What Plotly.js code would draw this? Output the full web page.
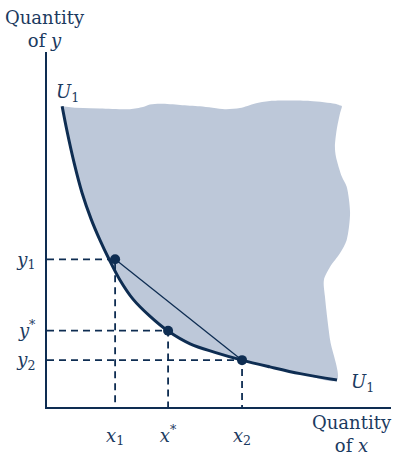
<!DOCTYPE html>
<html>
<head>
<meta charset="utf-8">
<script src="https://cdn.plot.ly/plotly-3.0.1.min.js"></script>
<style>
  html, body { margin: 0; padding: 0; background: #ffffff; }
  #chart { width: 394px; height: 456px; }
</style>
</head>
<body>
<div id="chart"></div>
<script>
// Indifference curve U1 (quantity of x, quantity of y)
const curveX = [0.44, 0.58, 0.79, 1.02, 1.28, 1.54, 1.80, 2.12, 2.50, 2.99, 3.52, 4.16, 4.88, 5.67, 6.48, 7.36, 8.43];
const curveY = [8.47, 7.78, 6.87, 6.03, 5.30, 4.70, 4.17, 3.58, 3.04, 2.56, 2.14, 1.78, 1.54, 1.32, 1.13, 0.94, 0.76];

// Boundary of the shaded region of preferred bundles:
// right edge (bottom to top), then top edge (right to left)
const regionRightX = [8.23, 8.08, 8.05, 8.23, 8.52, 8.71, 8.81, 8.71, 8.57, 8.40, 8.37, 8.42, 8.52, 8.57];
const regionRightY = [1.89, 3.11, 3.58, 3.95, 4.34, 4.70, 5.47, 6.21, 6.49, 7.05, 7.33, 7.80, 8.28, 8.48];
const regionTopX = [8.50, 8.37, 7.65, 6.48, 6.05, 5.61, 5.17, 4.45, 3.87, 3.29, 2.99, 2.79, 2.41, 1.54, 0.81];
const regionTopY = [8.50, 8.54, 8.62, 8.62, 8.55, 8.42, 8.39, 8.47, 8.51, 8.54, 8.52, 8.45, 8.39, 8.41, 8.43];

// Bundles on U1
const bundleNames = ["1", "*", "2"];
const bundleX = [1.98, 3.52, 5.67];
const bundleY = [4.16, 2.15, 1.32];

// Axis tick labels
const xTickText = ["<i>x</i><sub>1</sub>", "<i>x</i><sup>*</sup>", "<i>x</i><sub>2</sub>"];
const yTickText = ["<i>y</i><sub>1</sub>", "<i>y</i><sup>*</sup>", "<i>y</i><sub>2</sub>"];

const navy = "#0e2d52";
const textNavy = "#1b3a60";
const fillBlue = "rgb(189,200,217)";
const serif = "DejaVu Serif, Liberation Serif, serif";

const traces = [];

// shaded region
traces.push({
  x: curveX.concat(regionRightX, regionTopX),
  y: curveY.concat(regionRightY, regionTopY),
  mode: "lines",
  fill: "toself",
  fillcolor: fillBlue,
  line: { width: 0, shape: "spline", smoothing: 0.8, color: fillBlue },
  hoverinfo: "skip"
});

// dashed guides from each bundle to both axes
for (let i = 0; i < bundleX.length; i++) {
  traces.push({
    x: [0, bundleX[i], bundleX[i]],
    y: [bundleY[i], bundleY[i], 0],
    mode: "lines",
    line: { color: navy, width: 1.8, dash: "7px,5px" },
    hoverinfo: "skip"
  });
}

// chord joining the two extreme bundles
traces.push({
  x: [bundleX[0], bundleX[2]],
  y: [bundleY[0], bundleY[2]],
  mode: "lines",
  line: { color: navy, width: 1.3 },
  hoverinfo: "skip"
});

// the indifference curve
traces.push({
  x: curveX,
  y: curveY,
  mode: "lines",
  line: { color: navy, width: 3, shape: "spline" },
  hoverinfo: "skip"
});

// bundle dots
traces.push({
  x: bundleX,
  y: bundleY,
  text: bundleNames,
  mode: "markers",
  marker: { color: navy, size: 10 },
  hoverinfo: "skip"
});

const labelFont = { family: serif, size: 18, color: textNavy };

const layout = {
  width: 394,
  height: 456,
  margin: { l: 47, r: 3, t: 52, b: 49 },
  paper_bgcolor: "#ffffff",
  plot_bgcolor: "#ffffff",
  showlegend: false,
  font: labelFont,
  xaxis: {
    range: [0, 10],
    showgrid: false,
    zeroline: false,
    showline: true,
    linecolor: navy,
    linewidth: 2,
    ticks: "",
    tickvals: bundleX,
    ticktext: xTickText,
    ticklabelstandoff: 11,
    tickfont: labelFont,
    fixedrange: true
  },
  yaxis: {
    range: [0, 10],
    showgrid: false,
    zeroline: false,
    showline: true,
    linecolor: navy,
    linewidth: 2,
    ticks: "",
    tickvals: bundleY,
    ticktext: yTickText,
    ticklabelstandoff: 6,
    tickfont: labelFont,
    fixedrange: true
  },
  annotations: [
    { x: -0.006, y: 1.065, xref: "paper", yref: "paper", text: "Quantity<br>of <i>y</i>",
      showarrow: false, xanchor: "center", yanchor: "middle", align: "center", font: labelFont },
    { x: 0.887, y: -0.076, xref: "paper", yref: "paper", text: "Quantity<br>of <i>x</i>",
      showarrow: false, xanchor: "center", yanchor: "middle", align: "center", font: labelFont },
    { x: 0.61, y: 8.85, xref: "x", yref: "y", text: "<i>U</i><sub>1</sub>",
      showarrow: false, xanchor: "center", yanchor: "middle", font: labelFont },
    { x: 9.16, y: 0.68, xref: "x", yref: "y", text: "<i>U</i><sub>1</sub>",
      showarrow: false, xanchor: "center", yanchor: "middle", font: labelFont }
  ]
};

Plotly.newPlot("chart", traces, layout, { staticPlot: true, displayModeBar: false });
</script>
</body>
</html>
